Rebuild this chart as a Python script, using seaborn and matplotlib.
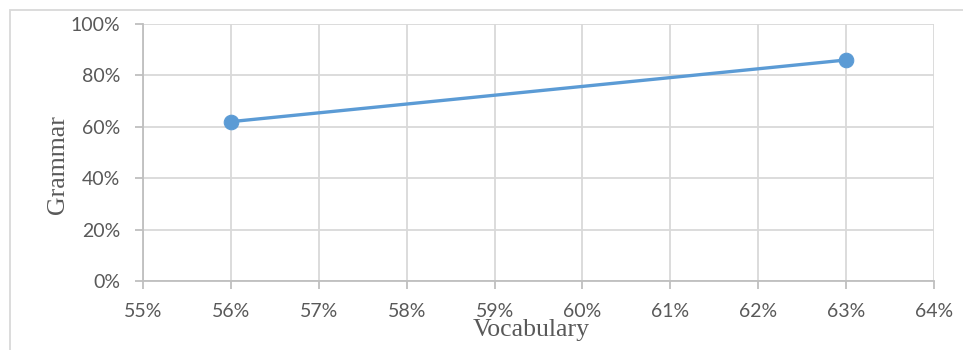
import matplotlib
matplotlib.use("Agg")
import matplotlib.pyplot as plt
import matplotlib.patches as patches
from matplotlib.ticker import FuncFormatter
import seaborn as sns
import pandas as pd

# Scores (fractions)
vocabulary = [0.56, 0.63]
grammar = [0.62, 0.86]

x_ticks = [0.55, 0.56, 0.57, 0.58, 0.59, 0.60, 0.61, 0.62, 0.63, 0.64]
y_ticks = [0.0, 0.2, 0.4, 0.6, 0.8, 1.0]

df = pd.DataFrame({"Vocabulary": vocabulary, "Grammar": grammar})

sns.set_theme(style="white")
plt.rcParams["font.family"] = ["Lato", "DejaVu Sans"]

W, H = 963, 350
fig = plt.figure(figsize=(W / 100, H / 100), dpi=100)
ax = fig.add_axes([143 / W, 1 - 281 / H, (934 - 143) / W, (281 - 24) / H])

grid_c = "#d9d9d9"
text_c = "#595959"
blue = "#5b9bd5"

sns.lineplot(data=df, x="Vocabulary", y="Grammar", ax=ax, color=blue,
             linewidth=2.4, marker="o", markersize=10.5,
             markeredgecolor=blue, markerfacecolor=blue, zorder=3)

ax.set_xlim(0.55, 0.64)
ax.set_ylim(0.0, 1.0)
ax.set_xticks(x_ticks)
ax.set_yticks(y_ticks)
pct = FuncFormatter(lambda v, _: f"{v * 100:.0f}%")
ax.xaxis.set_major_formatter(pct)
ax.yaxis.set_major_formatter(pct)

ax.grid(True, color=grid_c, linewidth=1.3)
for s in ["top", "right"]:
    ax.spines[s].set_visible(False)
for s in ["left", "bottom"]:
    ax.spines[s].set_color("#bfbfbf")
    ax.spines[s].set_linewidth(1.3)

ax.tick_params(axis="both", which="major", length=5.5, width=1.3,
               color="#bfbfbf", labelsize=14, labelcolor=text_c,
               bottom=True, left=True)
ax.tick_params(axis="x", pad=10)
ax.tick_params(axis="y", pad=11)

ax.set_xlabel("")
ax.set_ylabel("")
serif = ["Liberation Serif", "DejaVu Serif"]
fig.text(531 / W, 1 - 330 / H, "Vocabulary", family=serif, fontsize=18.5,
         color=text_c, ha="center", va="center")
fig.text(58 / W, 1 - 165 / H, "Grammar", family=serif, fontsize=18.5,
         color=text_c, ha="center", va="center", rotation=90)

# Chart area border
fig.patches.append(patches.Rectangle((10 / W, -0.1), 1.1, 1 - 10 / H + 0.1,
                                     transform=fig.transFigure, fill=False,
                                     edgecolor=grid_c, linewidth=1.3))

fig.savefig("out.png", dpi=100)
